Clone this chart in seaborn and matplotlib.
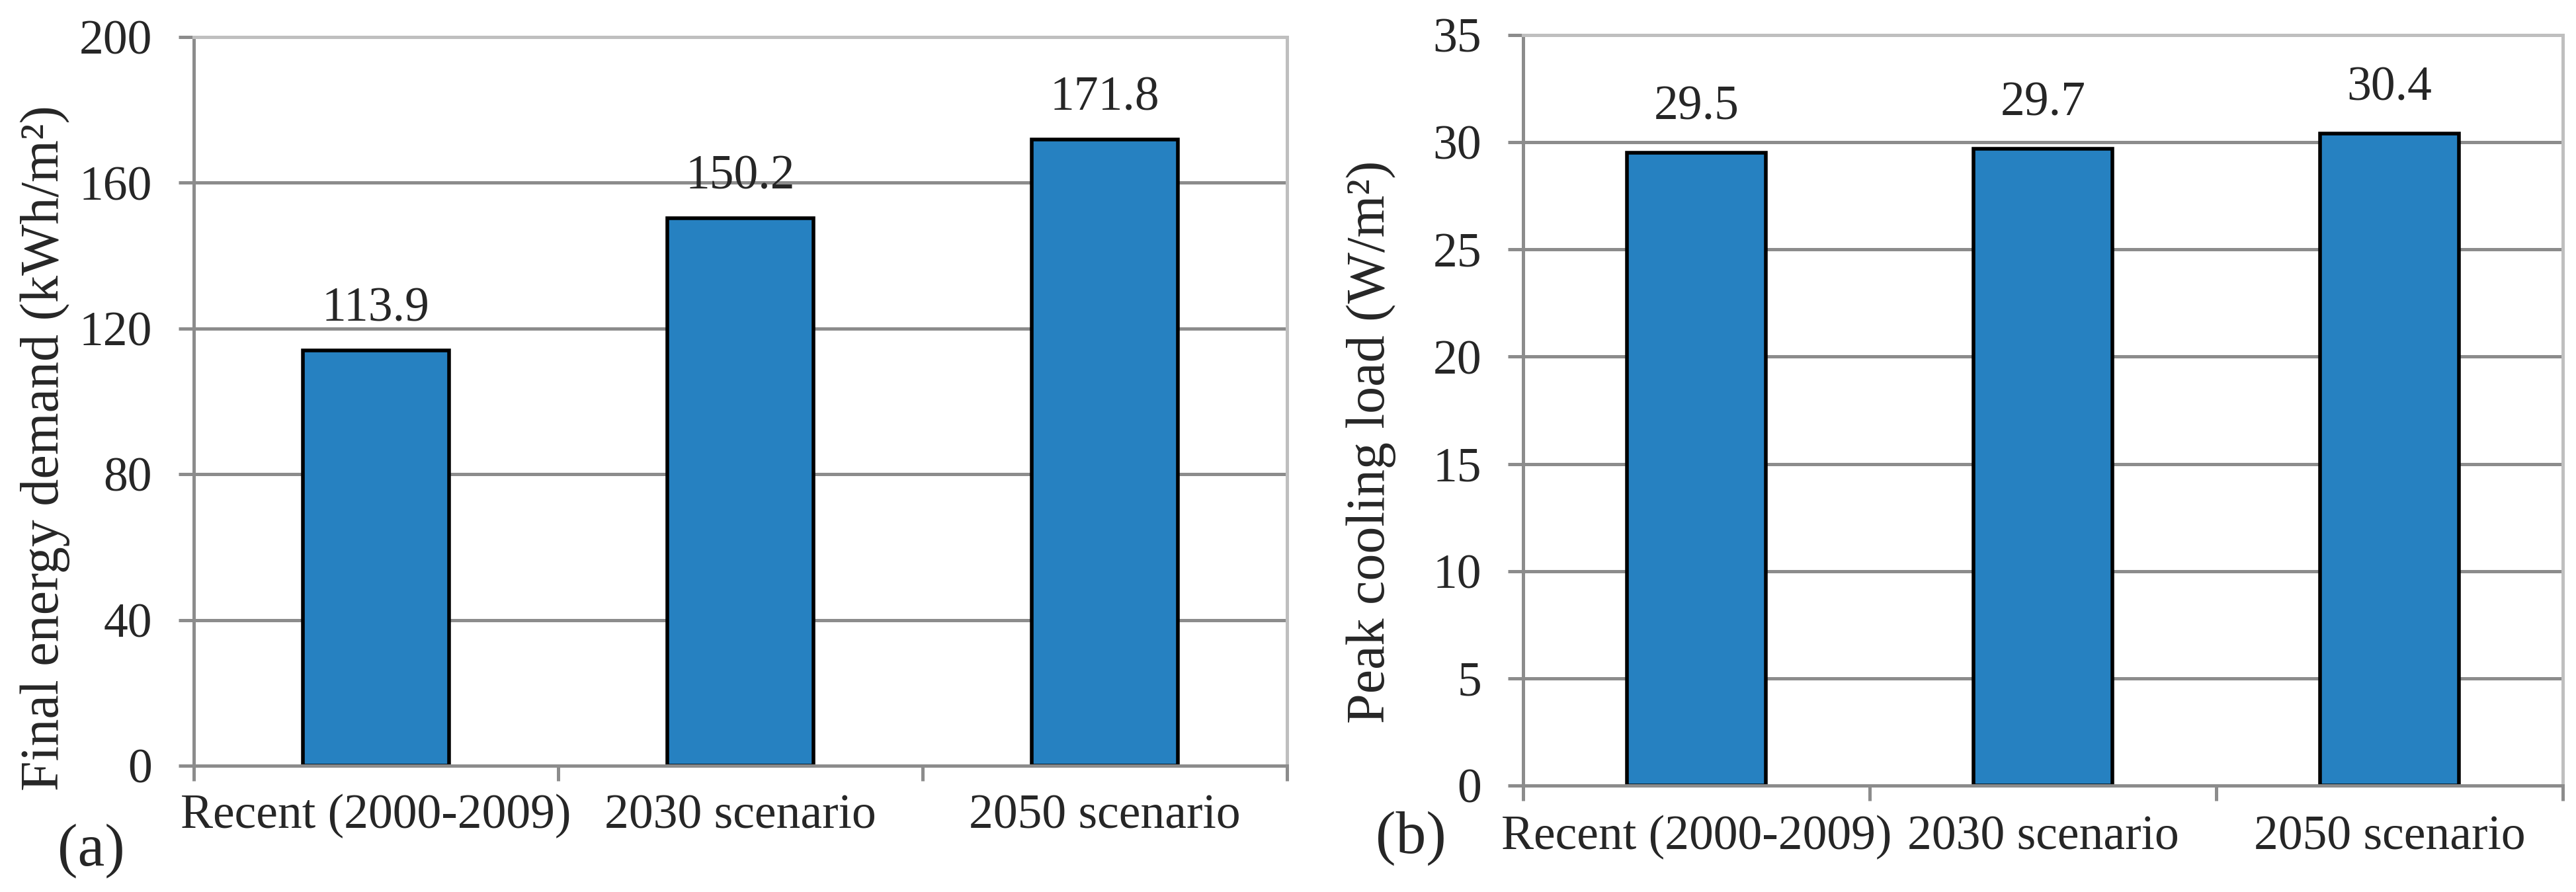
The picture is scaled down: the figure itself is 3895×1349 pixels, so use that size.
import matplotlib
matplotlib.use("Agg")
import matplotlib.pyplot as plt
import pandas as pd
import seaborn as sns

categories = ["Recent (2000-2009)", "2030 scenario", "2050 scenario"]
energy_demand = [113.9, 150.2, 171.8]
cooling_load = [29.5, 29.7, 30.4]

energy_ticks = [0, 40, 80, 120, 160, 200]
cooling_ticks = [0, 5, 10, 15, 20, 25, 30, 35]

BAR_COLOR = "#2681C1"
GRID_COLOR = "#8C8C8C"
BORDER_COLOR = "#BFBFBF"

sns.set_theme(style="white")
plt.rcParams["font.family"] = ["Liberation Serif", "DejaVu Serif"]


def draw_panel(ax, values, yticks, ylabel, letter, label_pad, value_pad, ylabel_xy, letter_xy):
    df = pd.DataFrame({"category": categories, "value": values})
    sns.barplot(
        data=df, x="category", y="value", color=BAR_COLOR, saturation=1,
        width=0.4, edgecolor="black", linewidth=4, ax=ax,
    )
    ax.set_xlim(-0.5, len(categories) - 0.5)
    ax.set_ylim(yticks[0], yticks[-1])
    ax.set_yticks(yticks)
    ax.set_xticks(range(len(categories)))
    # boundary ticks between categories, like the spreadsheet original
    ax.set_xticks([i - 0.5 for i in range(len(categories) + 1)], minor=True)

    ax.yaxis.grid(True, color=GRID_COLOR, linewidth=3.6)
    ax.set_axisbelow(True)

    for side in ["left", "bottom"]:
        ax.spines[side].set_color(GRID_COLOR)
        ax.spines[side].set_linewidth(3.6)
    for side in ["top", "right"]:
        ax.spines[side].set_color(BORDER_COLOR)
        ax.spines[side].set_linewidth(3.6)
        ax.spines[side].set_visible(True)

    ax.tick_params(axis="y", which="major", direction="out", length=16.5, width=3.6,
                   color=GRID_COLOR, labelsize=53, pad=29, left=True)
    ax.tick_params(axis="x", which="major", length=0, labelsize=53, pad=label_pad)
    ax.tick_params(axis="x", which="minor", direction="out", length=16.5, width=3.6,
                   color=GRID_COLOR, bottom=True)

    ax.set_xlabel("")
    ax.set_ylabel(ylabel, fontsize=59)
    ax.yaxis.set_label_coords(*ylabel_xy)

    ax.bar_label(ax.containers[0], fmt="%.1f", fontsize=53, padding=value_pad)
    ax.text(letter_xy[0], letter_xy[1], letter, fontsize=66, transform=ax.figure.transFigure,
            ha="center", va="center")


fig = plt.figure(figsize=(38.95, 13.49), dpi=100)
ax_a = fig.add_axes([0.0752, 0.1416, 0.4244, 0.8169])
ax_b = fig.add_axes([0.5913, 0.1193, 0.4036, 0.8414])

draw_panel(ax_a, energy_demand, energy_ticks, "Final energy demand (kWh/m²)", "(a)",
           label_pad=31, value_pad=21, ylabel_xy=(-0.113, 0.436),
           letter_xy=(138 / 3895, 1 - 1287 / 1349))
draw_panel(ax_b, cooling_load, cooling_ticks, "Peak cooling load (W/m²)", "(b)",
           label_pad=32, value_pad=25, ylabel_xy=(-0.122, 0.458),
           letter_xy=(2133 / 3895, 1 - 1268 / 1349))

fig.savefig("out.png", dpi=100)
